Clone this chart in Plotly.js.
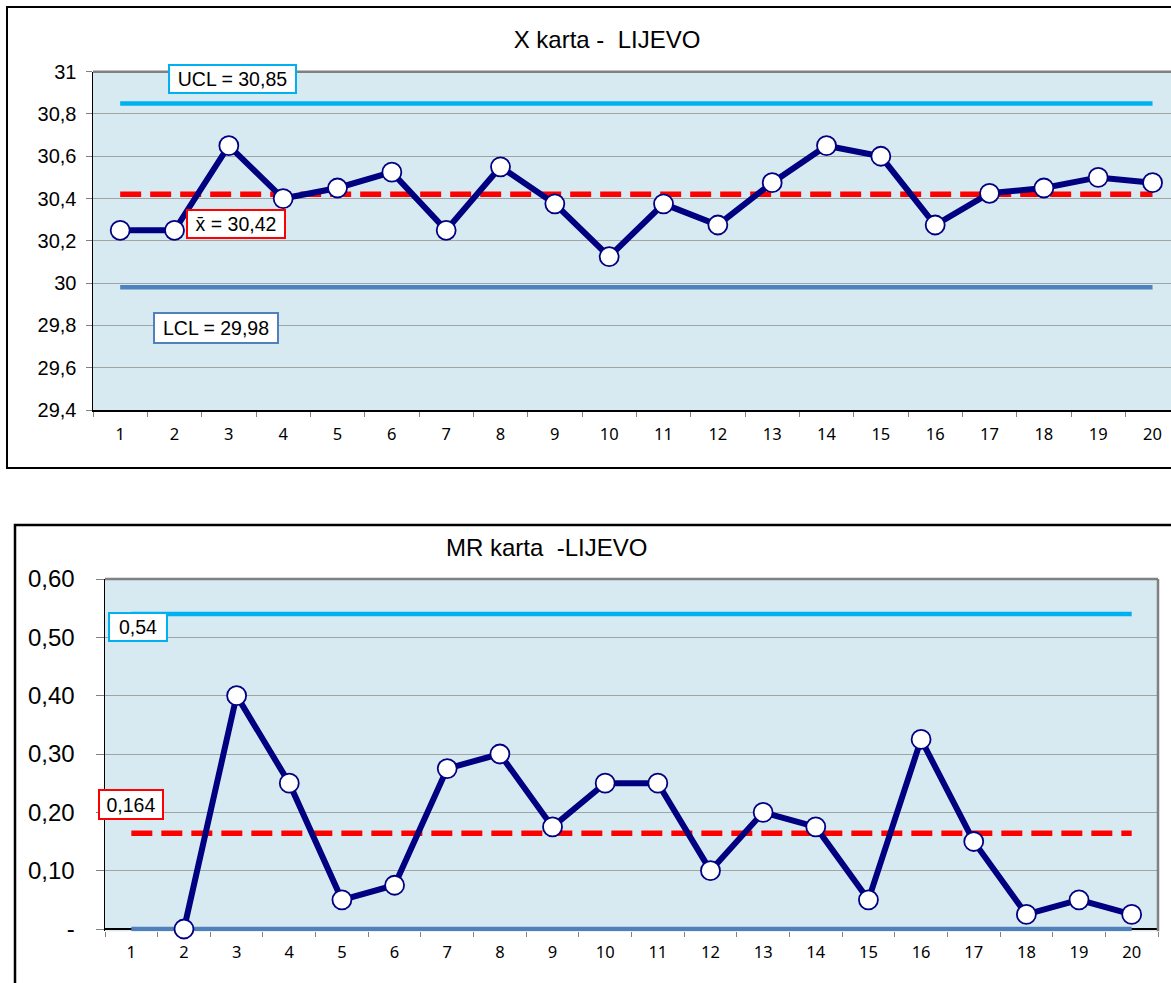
<!DOCTYPE html>
<html>
<head>
<meta charset="utf-8">
<script src="https://cdn.plot.ly/plotly-3.0.1.min.js"></script>
<style>
html,body{margin:0;padding:0;background:#fff;overflow:hidden;}
#chart{width:1171px;height:983px;}
</style>
</head>
<body>
<div id="chart"></div>
<script>
// ---- data ----
const categories = ['1','2','3','4','5','6','7','8','9','10','11','12','13','14','15','16','17','18','19','20'];
const xValues = [30.25, 30.25, 30.65, 30.40, 30.45, 30.525, 30.25, 30.55, 30.375, 30.125, 30.375, 30.275, 30.475, 30.65, 30.60, 30.275, 30.425, 30.45, 30.50, 30.475];
const mrValues = [null, 0, 0.40, 0.25, 0.05, 0.075, 0.275, 0.30, 0.175, 0.25, 0.25, 0.10, 0.20, 0.175, 0.05, 0.325, 0.15, 0.025, 0.05, 0.025];
const xLimits = {ucl: 30.85, mean: 30.42, lcl: 29.98};
const mrLimits = {ucl: 0.54, mean: 0.164, lcl: 0};
const xTickVals = [29.4, 29.6, 29.8, 30, 30.2, 30.4, 30.6, 30.8, 31];
const xTickText = ['29,4', '29,6', '29,8', '30', '30,2', '30,4', '30,6', '30,8', '31'];
const mrTickVals = [0, 0.1, 0.2, 0.3, 0.4, 0.5, 0.6];
const mrTickText = ['-', '0,10', '0,20', '0,30', '0,40', '0,50', '0,60'];
const titleTop = 'X karta -\u00a0 LIJEVO';
const titleBottom = 'MR karta \u00a0-LIJEVO';

// ---- helpers ----
const W = 1171, H = 983;
const px = v => v / W;
const py = v => 1 - v / H;
const fmt = (v, d) => v.toFixed(d).replace('.', ',');
const ends = [categories[0], categories[categories.length - 1]];

const NAVY = '#000080', CYAN = '#00B0F0', RED = '#FF0000', STEEL = '#4F81BD';
const BG = '#D7EAF2', GRID = '#A3A3A3';
const ARIAL = 'Liberation Sans, Arial, sans-serif';

function limitLine(xa, ya, y, color, dash) {
  return {type: 'scatter', mode: 'lines', xaxis: xa, yaxis: ya,
    x: ends, y: [y, y], hoverinfo: 'skip',
    line: {color: color, width: dash ? 5.5 : 4.5, dash: dash || 'solid'}};
}
function series(xa, ya, y) {
  return {type: 'scatter', mode: 'lines+markers', xaxis: xa, yaxis: ya,
    x: categories, y: y, cliponaxis: false, connectgaps: false,
    line: {color: NAVY, width: 6},
    marker: {symbol: 'circle', size: 19, color: '#FFFFFF', line: {color: NAVY, width: 1.8}}};
}

const traces = [
  limitLine('x', 'y', xLimits.ucl, CYAN),
  limitLine('x', 'y', xLimits.lcl, STEEL),
  limitLine('x', 'y', xLimits.mean, RED, '21px,9px'),
  series('x', 'y', xValues),
  limitLine('x2', 'y2', mrLimits.ucl, CYAN),
  limitLine('x2', 'y2', mrLimits.lcl, STEEL),
  limitLine('x2', 'y2', mrLimits.mean, RED, '21px,9px'),
  series('x2', 'y2', mrValues)
];

const xCommon = {
  type: 'category', categoryorder: 'array', categoryarray: categories,
  tickson: 'boundaries', ticks: 'outside', ticklen: 5,
  tickcolor: '#808080', tickwidth: 1, showgrid: false, zeroline: false,
  tickfont: {family: 'Noto Sans, sans-serif', size: 16.5, color: '#000'},
  fixedrange: true
};

function box(text, xc, yc, w, h, color) {
  return {xref: 'paper', yref: 'paper', x: px(xc), y: py(yc),
    xanchor: 'center', yanchor: 'middle', text: text, showarrow: false,
    font: {family: ARIAL, size: 19.5, color: '#000'},
    bgcolor: '#FFFFFF', bordercolor: color, borderwidth: 2, borderpad: 2,
    width: w - 8, height: h - 8};
}

const layout = {
  width: W, height: H,
  margin: {l: 0, r: 0, t: 0, b: 0},
  paper_bgcolor: '#FFFFFF',
  plot_bgcolor: BG,
  showlegend: false,
  hovermode: false,
  title: {text: titleTop, x: px(607), y: py(40), xref: 'paper', yref: 'paper',
    xanchor: 'center', yanchor: 'middle', font: {family: ARIAL, size: 24, color: '#000'}},
  xaxis: Object.assign({}, xCommon, {
    domain: [px(93), 1], range: [-0.5, 19.34], anchor: 'y',
    showline: true, linecolor: '#000', linewidth: 1.5, ticklabelstandoff: 9
  }),
  yaxis: {
    domain: [py(410), py(71.7)], range: [29.4, 31], anchor: 'x',
    tickvals: xTickVals, ticktext: xTickText,
    ticks: 'outside', ticklen: 6, tickcolor: '#808080', ticklabelstandoff: 5,
    showgrid: true, gridcolor: GRID, gridwidth: 1, zeroline: false,
    showline: true, linecolor: '#000', linewidth: 1.5,
    tickfont: {family: ARIAL, size: 20, color: '#000'}, fixedrange: true
  },
  xaxis2: Object.assign({}, xCommon, {
    domain: [px(105), px(1158)], range: [-0.5, 19.5], anchor: 'y2',
    showline: false, ticklabelstandoff: 9
  }),
  yaxis2: {
    domain: [py(931.33), py(579)], range: [-0.004, 0.6], anchor: 'x2',
    tickvals: mrTickVals, ticktext: mrTickText,
    ticks: 'outside', ticklen: 8, tickcolor: '#808080', ticklabelstandoff: 16,
    showgrid: true, gridcolor: GRID, gridwidth: 1,
    zeroline: true, zerolinecolor: '#000', zerolinewidth: 1.5,
    showline: true, linecolor: '#000', linewidth: 1.5,
    tickfont: {family: ARIAL, size: 24, color: '#000'}, fixedrange: true
  },
  shapes: [
    {type: 'rect', xref: 'paper', yref: 'paper', x0: px(7), x1: 1.05, y0: py(468), y1: py(7),
      line: {color: '#000', width: 2}, fillcolor: 'rgba(0,0,0,0)', layer: 'below'},
    {type: 'rect', xref: 'paper', yref: 'paper', x0: px(15), x1: 1.05, y0: -0.05, y1: py(525),
      line: {color: '#000', width: 2.5}, fillcolor: 'rgba(0,0,0,0)', layer: 'below'},
    {type: 'line', xref: 'x domain', yref: 'y domain', x0: 0, x1: 1, y0: 1, y1: 1,
      line: {color: '#808080', width: 2.5}},
    {type: 'line', xref: 'x2 domain', yref: 'y2 domain', x0: 0, x1: 1, y0: 1, y1: 1,
      line: {color: '#808080', width: 2.5}},
    {type: 'line', xref: 'x2 domain', yref: 'y2 domain', x0: 1, x1: 1, y0: 0, y1: 1,
      line: {color: '#808080', width: 2.5}}
  ],
  annotations: [
    {xref: 'paper', yref: 'paper', x: px(546), y: py(547), xanchor: 'center', yanchor: 'middle',
      text: titleBottom, showarrow: false, font: {family: ARIAL, size: 24, color: '#000'}},
    box('UCL = ' + fmt(xLimits.ucl, 2), 232.5, 79, 129, 30, CYAN),
    box('x\u0304 = ' + fmt(xLimits.mean, 2), 236, 224, 100, 30, RED),
    box('LCL = ' + fmt(xLimits.lcl, 2), 216, 328, 126, 32, STEEL),
    box(fmt(mrLimits.ucl, 2), 138, 627, 60, 30, CYAN),
    box(fmt(mrLimits.mean, 3), 131, 804.5, 66, 31, RED)
  ]
};

Plotly.newPlot('chart', traces, layout, {staticPlot: true, displayModeBar: false});
</script>
</body>
</html>
